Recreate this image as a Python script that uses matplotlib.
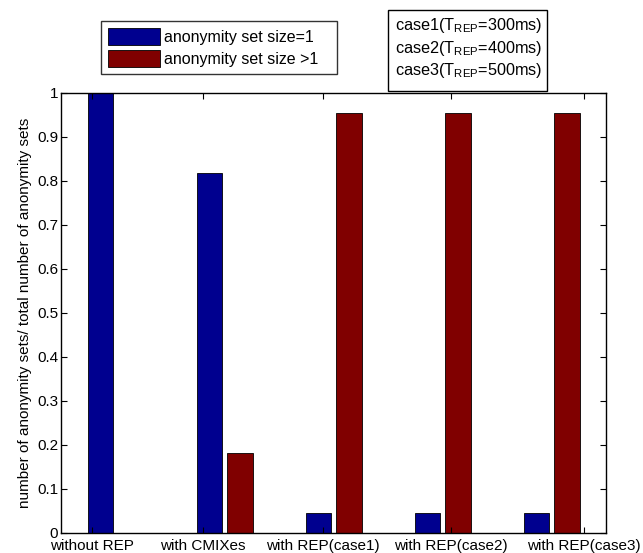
import matplotlib
matplotlib.use("Agg")
import matplotlib.pyplot as plt
import numpy as np
from matplotlib.patches import Patch, Rectangle

plt.rcParams["font.family"] = ["Liberation Sans", "DejaVu Sans"]
plt.rcParams["mathtext.fontset"] = "custom"
plt.rcParams["mathtext.rm"] = "Liberation Sans"
plt.rcParams["mathtext.it"] = "Liberation Sans:italic"

# fraction of anonymity sets (out of 22) per scenario
scenarios = ["without REP", "with CMIXes", "with REP(case1)",
             "with REP(case2)", "with REP(case3)"]
size_one = [22 / 22, 18 / 22, 1 / 22, 1 / 22, 1 / 22]
size_many = [0 / 22, 4 / 22, 21 / 22, 21 / 22, 21 / 22]
tick_pos = [0.78, 1.80, 2.90, 4.08, 5.30]
yticks = [0, 0.1, 0.2, 0.3, 0.4, 0.5, 0.6, 0.7, 0.8, 0.9, 1]
ytick_labels = ["0", "0.1", "0.2", "0.3", "0.4", "0.5", "0.6", "0.7",
                "0.8", "0.9", "1"]
cases = [r"case1(T$_{\mathrm{REP}}$=300ms)",
         r"case2(T$_{\mathrm{REP}}$=400ms)",
         r"case3(T$_{\mathrm{REP}}$=500ms)"]

BLUE = "#00008f"
RED = "#800000"

fig = plt.figure(figsize=(6.43, 5.53), dpi=100)
ax = fig.add_axes([0.0949, 0.0362, 0.8476, 0.7965])

x = np.arange(1, len(scenarios) + 1)
w = 0.23
off = 0.142
ax.bar(x - off, size_one, w, color=BLUE, edgecolor="black", linewidth=0.6)
ax.bar(x + off, size_many, w, color=RED, edgecolor="black", linewidth=0.6)

ax.set_xlim(0.5, 5.5)
ax.set_ylim(0, 1)
ax.set_xticks(tick_pos)
ax.set_xticklabels(scenarios, fontsize=11)
ax.set_yticks(yticks)
ax.set_yticklabels(ytick_labels, fontsize=11)
ax.tick_params(direction="in", top=True, right=True, length=4, width=0.8,
               pad=2)
ax.tick_params(axis="x", pad=4)
for s in ax.spines.values():
    s.set_linewidth(1.0)
ax.set_ylabel("number of anonymity sets/ total number of anonymity sets",
              fontsize=11, labelpad=4)

handles = [Patch(facecolor=BLUE, edgecolor="black", linewidth=0.6,
                 label="anonymity set size=1"),
           Patch(facecolor=RED, edgecolor="black", linewidth=0.6,
                 label="anonymity set size >1")]
leg = fig.legend(handles=handles, loc="upper left", mode="expand",
                 bbox_to_anchor=(101 / 643, 1 - 78 / 553, 236 / 643, 57 / 553),
                 fontsize=11.5, fancybox=False, edgecolor="black",
                 handlelength=3.25, handleheight=1.2, handletextpad=0.25,
                 borderpad=0.45, labelspacing=0.35, borderaxespad=0)
leg.get_frame().set_linewidth(1.0)

# case description box
fig.patches.append(Rectangle((388 / 643, 1 - 91 / 553), 159 / 643, 81 / 553,
                             transform=fig.transFigure, facecolor="white",
                             edgecolor="black", linewidth=1.0))
for i, txt in enumerate(cases):
    fig.text(395 / 643, 1 - (30 + 22.5 * i) / 553, txt, fontsize=11.7,
             ha="left", va="baseline")

fig.savefig("out.png", dpi=100)
